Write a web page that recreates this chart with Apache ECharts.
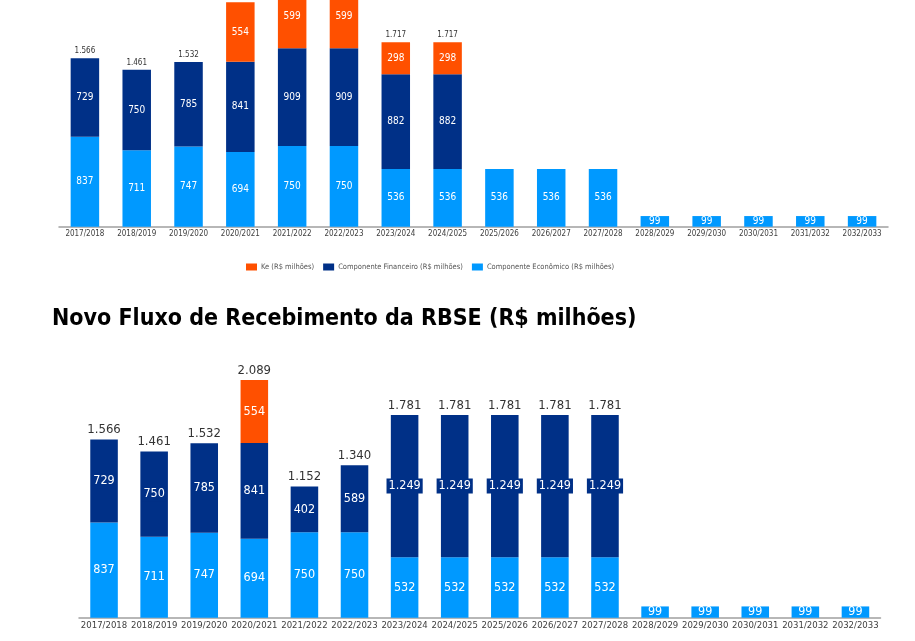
<!DOCTYPE html>
<html>
<head>
<meta charset="utf-8">
<script src="https://cdn.jsdelivr.net/npm/echarts@6/dist/echarts.min.js"></script>
<style>
html,body{margin:0;padding:0;background:#fff;}
#c{width:915px;height:641px;}
</style>
</head>
<body>
<div id="c"></div>
<script>
const categories = ['2017/2018','2018/2019','2019/2020','2020/2021','2021/2022','2022/2023','2023/2024','2024/2025','2025/2026','2026/2027','2027/2028','2028/2029','2029/2030','2030/2031','2031/2032','2032/2033'];

// Top chart (original flow)
const economico1 = [837,711,747,694,750,750,536,536,536,536,536,99,99,99,99,99];
const financeiro1 = [729,750,785,841,909,909,882,882,null,null,null,null,null,null,null,null];
const ke1 = [null,null,null,554,599,599,298,298,null,null,null,null,null,null,null,null];
const totals1 = [1566,1461,1532,null,null,null,1717,1717,null,null,null,null,null,null,null,null];

// Bottom chart (new flow)
const economico2 = [837,711,747,694,750,750,532,532,532,532,532,99,99,99,99,99];
const financeiro2 = [729,750,785,841,402,589,1249,1249,1249,1249,1249,null,null,null,null,null];
const ke2 = [null,null,null,554,null,null,null,null,null,null,null,null,null,null,null,null];
const totals2 = [1566,1461,1532,2089,1152,1340,1781,1781,1781,1781,1781,null,null,null,null,null];

const names = ['Ke (R$ milhões)','Componente Financeiro (R$ milhões)','Componente Econômico (R$ milhões)'];
const title = 'Novo Fluxo de Recebimento da RBSE (R$ milhões)';

const C_KE = '#FF5000', C_FIN = '#003087', C_ECO = '#0099FF';
const FONT = "'DejaVu Sans Condensed', 'DejaVu Sans', sans-serif";

function fmt(v){ return String(v).replace(/\B(?=(\d{3})+(?!\d))/g, '.'); }

function barSeries(name, data, color, idx, fs, stack, extraLabel){
  return {
    type:'bar', name:name, data:data, stack:stack, xAxisIndex:idx, yAxisIndex:idx,
    barWidth:'55%', clip:false,
    itemStyle:{color:color},
    label:Object.assign({show:true, position:'inside', color:'#fff', fontSize:fs, fontFamily:FONT,
      formatter:p=>fmt(p.value)}, extraLabel||{})
  };
}
function totalSeries(data, idx, fs, dist){
  return {
    type:'scatter', data:data, xAxisIndex:idx, yAxisIndex:idx, symbolSize:0,
    itemStyle:{color:'transparent', opacity:1}, silent:true,
    label:{show:true, position:'top', distance:dist, color:'#333', fontSize:fs, fontFamily:FONT,
      formatter:p=>fmt(p.value)}
  };
}

const chart = echarts.init(document.getElementById('c'));
chart.setOption({
  animation:false,
  legend:{
    data:names, left:241, top:258, itemWidth:11, itemHeight:7, itemGap:9,
    textStyle:{fontSize:7.5, color:'#555', fontFamily:FONT, padding:[0,0,0,-1]}, icon:'rect'
  },
  graphic:[{
    type:'text', left:52, top:308,
    style:{text:title, font:"bold 23px 'DejaVu Sans Condensed', 'DejaVu Sans', sans-serif", fill:'#000'}
  }],
  grid:[
    {left:59, right:27, top:226.7-2100*0.1075, height:2100*0.1075},
    {left:79, right:34.5, top:617.7-2200*0.1138, height:2200*0.1138}
  ],
  xAxis:[0,1].map(i=>({
    type:'category', data:categories, gridIndex:i,
    axisLine:{lineStyle:{color:'#A0A0A0', width:1.5}},
    axisTick:{show:false},
    axisLabel:{interval:0, color:'#404040', fontSize: i===0?8:9.5, margin:3, fontFamily:FONT}
  })),
  yAxis:[
    {type:'value', gridIndex:0, min:0, max:2100, show:false, splitLine:{show:false}},
    {type:'value', gridIndex:1, min:0, max:2200, show:false, splitLine:{show:false}}
  ],
  series:[
    barSeries(names[2], economico1, C_ECO, 0, 10, 's1'),
    barSeries(names[1], financeiro1, C_FIN, 0, 10, 's1'),
    barSeries(names[0], ke1, C_KE, 0, 10, 's1'),
    totalSeries(totals1, 0, 8, 3),
    barSeries(names[2], economico2, C_ECO, 1, 12.5, 's2'),
    barSeries(names[1], financeiro2, C_FIN, 1, 12.5, 's2', {backgroundColor:C_FIN, padding:[1,2]}),
    barSeries(names[0], ke2, C_KE, 1, 12.5, 's2'),
    totalSeries(totals2, 1, 13, 3)
  ]
});
</script>
</body>
</html>
